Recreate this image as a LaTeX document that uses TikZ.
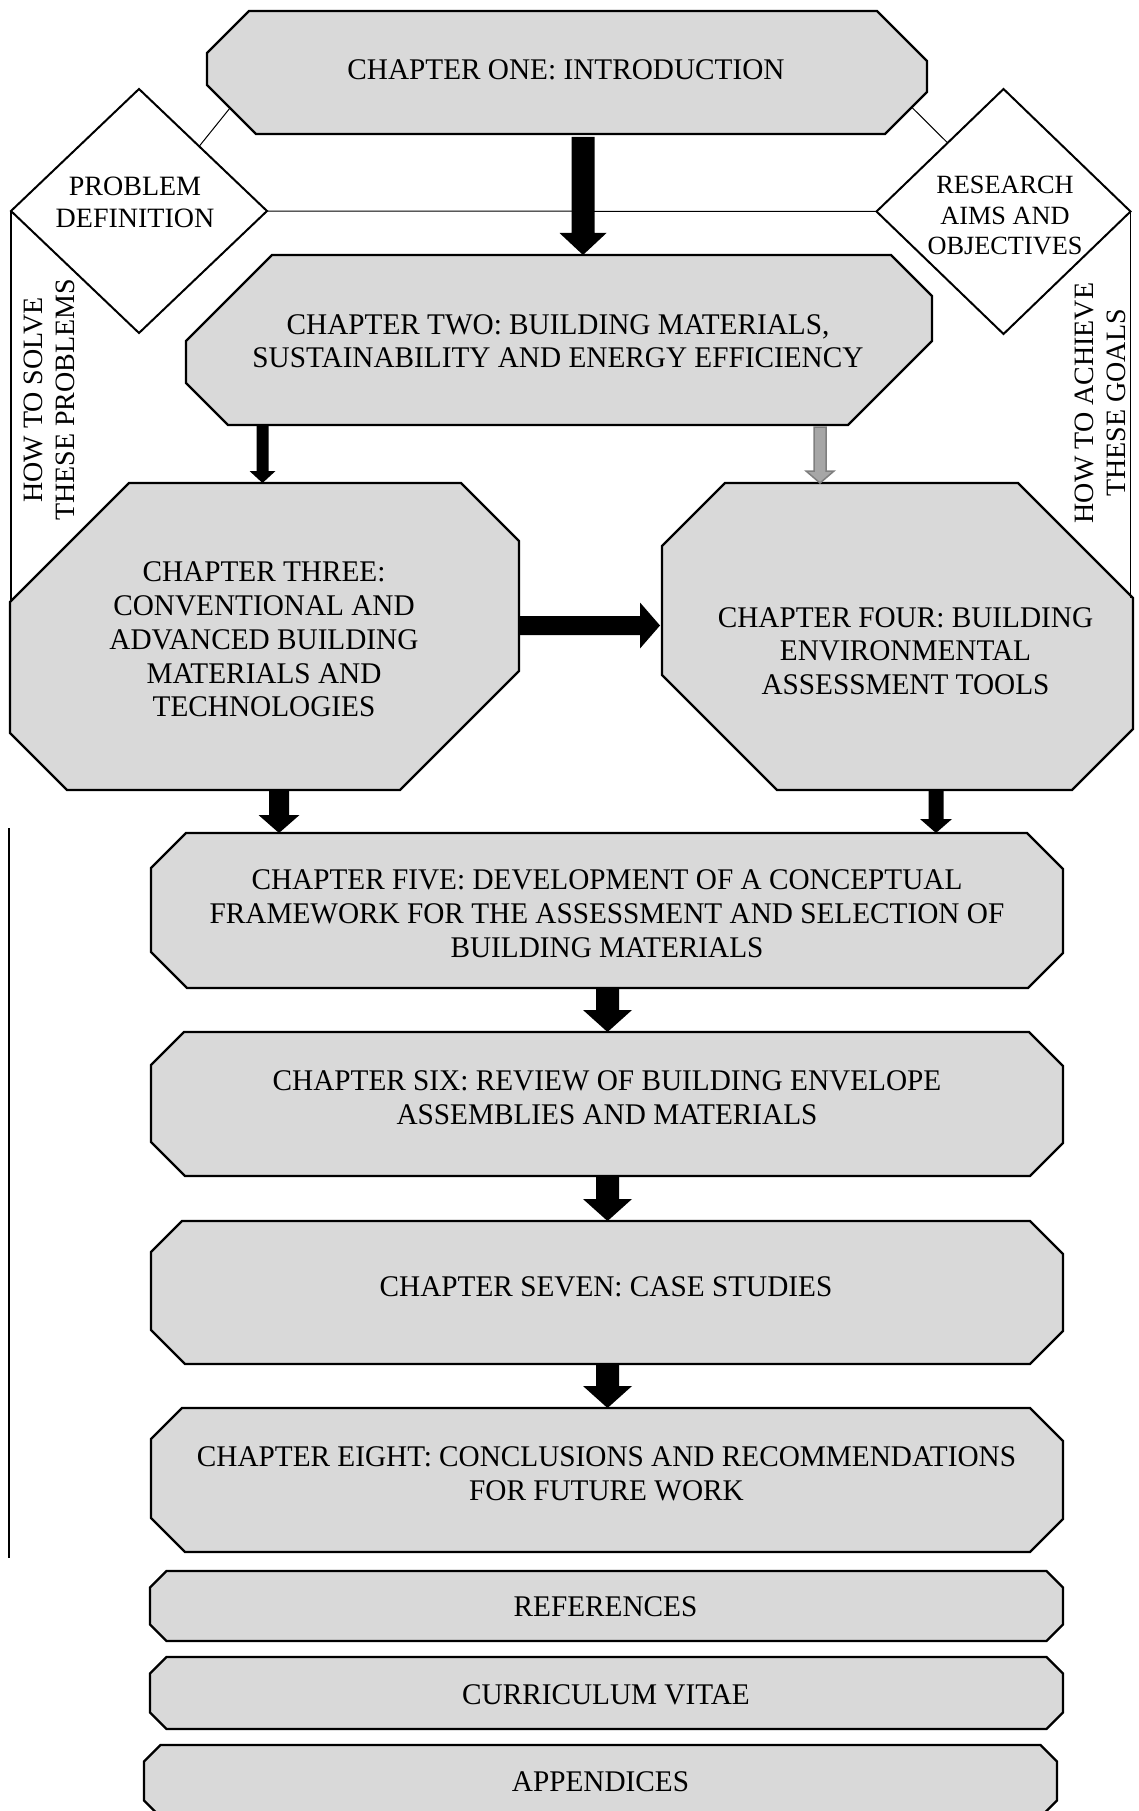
\documentclass[tikz,border=0pt]{standalone}
\usepackage{fontspec}
\setmainfont{Liberation Serif}
\newfontfamily\chapfont[FakeStretch=0.975]{Liberation Serif}
\newfontfamily\sidefont{Liberation Serif}
\usetikzlibrary{shapes.geometric,calc}

\definecolor{boxgray}{HTML}{D9D9D9}
\definecolor{arrowgray}{HTML}{A6A6A6}
\definecolor{arrowedge}{HTML}{7F7F7F}

\tikzset{
  boxnode/.style={rectangle, inner sep=0pt, outer sep=0pt, draw=none},
  boxshape/.style={fill=boxgray, draw=black, line width=2.4pt, line join=miter},
  chaptext/.style={align=center, inner sep=0pt, font=\chapfont\fontsize{30}{33.8}\selectfont},
  decision/.style={diamond, aspect=1, draw=black, fill=white, line width=2pt, inner sep=0pt, outer sep=0pt},
  decisiontext/.style={align=center, inner sep=0pt},
  sidetext/.style={align=center, inner sep=0pt, rotate=90, font=\sidefont\fontsize{28}{32.3}\selectfont},
  link/.style={draw=black, line width=1pt},
  sideline/.style={draw=black, line width=1.3pt},
  blockarrow/.style={fill=black},
  greyarrow/.style={fill=arrowgray, draw=arrowedge, line width=1.5pt, line join=miter},
}

% octagonal frame around a box node: node, cut at top-left, top-right, bottom-right, bottom-left
\newcommand\octagonpath[5]{%
  \path[boxshape]
    ([shift={(#2,0)}]#1.north west) -- ([shift={(-#3,0)}]#1.north east)
    -- ([shift={(0,#3)}]#1.north east) -- ([shift={(0,-#4)}]#1.south east)
    -- ([shift={(-#4,0)}]#1.south east) -- ([shift={(#5,0)}]#1.south west)
    -- ([shift={(0,-#5)}]#1.south west) -- ([shift={(0,#2)}]#1.north west) -- cycle;}

% block arrows: style, start, tip, shaft half width, head half width, head length
\newcommand\arrowdown[6]{%
  \path[#1] let \p1=(#2), \p2=(#3) in
    (\x2-#4pt,\y1) -- (\x2-#4pt,\y2+#6pt) -- (\x2-#5pt,\y2+#6pt) -- (\x2,\y2)
    -- (\x2+#5pt,\y2+#6pt) -- (\x2+#4pt,\y2+#6pt) -- (\x2+#4pt,\y1) -- cycle;}
\newcommand\arrowright[6]{%
  \path[#1] let \p1=(#2), \p2=(#3) in
    (\x1,\y2+#4pt) -- (\x2-#6pt,\y2+#4pt) -- (\x2-#6pt,\y2+#5pt) -- (\x2,\y2)
    -- (\x2-#6pt,\y2-#5pt) -- (\x2-#6pt,\y2-#4pt) -- (\x1,\y2-#4pt) -- cycle;}

\begin{document}
\begin{tikzpicture}[x=1pt,y=-1pt]
\useasboundingbox (0,0) rectangle (1138,1811);
\clip (0,0) rectangle (1138,1811);

% box geometry
\node[boxnode, minimum width=720pt, minimum height=123pt] (c1) at (567,72.5) {};
\node[boxnode, minimum width=746pt, minimum height=170pt] (c2) at (559,340) {};
\node[boxnode, minimum width=509pt, minimum height=307pt] (c3) at (264.5,636.5) {};
\node[boxnode, minimum width=471pt, minimum height=307pt] (c4) at (897.5,636.5) {};
\node[boxnode, minimum width=912pt, minimum height=155pt] (c5) at (607,910.5) {};
\node[boxnode, minimum width=912pt, minimum height=144pt] (c6) at (607,1104) {};
\node[boxnode, minimum width=912pt, minimum height=143pt] (c7) at (607,1292.5) {};
\node[boxnode, minimum width=912pt, minimum height=144pt] (c8) at (607,1480) {};
\node[boxnode, minimum width=913pt, minimum height=70pt] (refs) at (606.5,1606) {};
\node[boxnode, minimum width=913pt, minimum height=72pt] (cv) at (606.5,1693) {};
\node[boxnode, minimum width=913pt, minimum height=72pt] (app) at (600.5,1781) {};

% frames
\octagonpath{c1}{42}{50}{42}{49}
\octagonpath{c2}{86}{41}{84}{42}
\octagonpath{c3}{119}{58}{119}{57}
\octagonpath{c4}{63}{115}{61}{115}
\octagonpath{c5}{35}{36}{35}{36}
\octagonpath{c6}{33}{34}{33}{34}
\octagonpath{c7}{31}{33}{33}{34}
\octagonpath{c8}{31}{33}{33}{34}
\octagonpath{refs}{16.5}{16.5}{16.5}{16.5}
\octagonpath{cv}{16.5}{16.5}{16.5}{16.5}
\octagonpath{app}{16.5}{16.5}{16.5}{16.5}

% decisions
\node[decision, minimum width=256pt, minimum height=244pt] (pd) at (139,211) {};
\node[decision, minimum width=254pt, minimum height=245pt] (ra) at (1003.5,211.5) {};

% texts
\node[chaptext] (c1-text) at ([shift={(-1,-3.2)}]c1.center) {CHAPTER ONE: INTRODUCTION};
\node[chaptext] (c2-text) at ([shift={(-1,1.3)}]c2.center) {CHAPTER TWO: BUILDING MATERIALS,\\SUSTAINABILITY AND ENERGY EFFICIENCY};
\node[chaptext] (c3-text) at ([shift={(-0.5,3)}]c3.center) {CHAPTER THREE:\\CONVENTIONAL AND\\ADVANCED BUILDING\\MATERIALS AND\\TECHNOLOGIES};
\node[chaptext] (c4-text) at ([shift={(8,14.7)}]c4.center) {CHAPTER FOUR: BUILDING\\ENVIRONMENTAL\\ASSESSMENT TOOLS};
\node[chaptext] (c5-text) at ([shift={(0,3.3)}]c5.center) {CHAPTER FIVE: DEVELOPMENT OF A CONCEPTUAL\\FRAMEWORK FOR THE ASSESSMENT AND SELECTION OF\\BUILDING MATERIALS};
\node[chaptext] (c6-text) at ([shift={(0,-6)}]c6.center) {CHAPTER SIX: REVIEW OF BUILDING ENVELOPE\\ASSEMBLIES AND MATERIALS};
\node[chaptext] (c7-text) at ([shift={(-1,-5.5)}]c7.center) {CHAPTER SEVEN: CASE STUDIES};
\node[chaptext] (c8-text) at ([shift={(-0.5,-6)}]c8.center) {CHAPTER EIGHT: CONCLUSIONS AND RECOMMENDATIONS\\FOR FUTURE WORK};
\node[chaptext] (refs-text) at ([shift={(-1,1)}]refs.center) {REFERENCES};
\node[chaptext] (cv-text) at ([shift={(-0.5,1.3)}]cv.center) {CURRICULUM VITAE};
\node[chaptext] (app-text) at ([shift={(0,1)}]app.center) {APPENDICES};

\node[decisiontext, font=\fontsize{28}{32}\selectfont] (pd-text) at ([shift={(-4,-8.4)}]pd.center) {PROBLEM\\DEFINITION};
\node[decisiontext, font=\fontsize{26.3}{30.5}\selectfont] (ra-text) at ([shift={(1.5,4.3)}]ra.center) {RESEARCH\\AIMS AND\\OBJECTIVES};

\node[sidetext] (solve-text) at (49.5,400) {HOW TO SOLVE\\THESE PROBLEMS};
\node[sidetext] (achieve-text) at (1100.5,403) {HOW TO ACHIEVE\\THESE GOALS};

% thin links
\coordinate (c3-lt) at ([shift={(0,119)}]c3.north west);
\coordinate (c4-rt) at ([shift={(0,115)}]c4.north east);
\draw[link] ([shift={(23,-26)}]c1.south west) -- ($(pd.north)!0.47!(pd.east)$);
\draw[link] ([shift={(-15,-26.5)}]c1.south east) -- ($(ra.west)!0.56!(ra.north)$);
\draw[link] (pd.east) -- (ra.west);
\draw[sideline] (pd.west) -- (pd.west |- c3-lt);
\draw[sideline] (ra.east) -- (ra.east |- c4-rt);
\draw[sideline] ([shift={(-142,-5)}]c5.north west) -- ([shift={(-142,6)}]c8.south west);

% block arrows
\arrowdown{blockarrow}{[shift={(0,3)}]c1.south}{[shift={(24,0)}]c2.north}{11.5}{23.5}{22}
\arrowdown{blockarrow}{c2.south}{[shift={(-2,0)}]c3.north}{6}{13}{12}
\arrowdown{greyarrow}{[shift={(0,2)}]c2.south}{[shift={(-77.5,0)}]c4.north}{6}{14}{12}
\arrowright{blockarrow}{c3.east}{[shift={(-2,-11)}]c4.west}{9.5}{23}{20}
\arrowdown{blockarrow}{c3.south}{[shift={(-328,0)}]c5.north}{10}{20.5}{18}
\arrowdown{blockarrow}{c4.south}{[shift={(329,0)}]c5.north}{7.5}{16}{14}
\arrowdown{blockarrow}{c5.south}{[shift={(0.5,0)}]c6.north}{11.5}{24.5}{22}
\arrowdown{blockarrow}{c6.south}{[shift={(0.5,0)}]c7.north}{11.5}{24.5}{22}
\arrowdown{blockarrow}{c7.south}{[shift={(0.5,0)}]c8.north}{11.5}{24.5}{22}
\end{tikzpicture}
\end{document}
